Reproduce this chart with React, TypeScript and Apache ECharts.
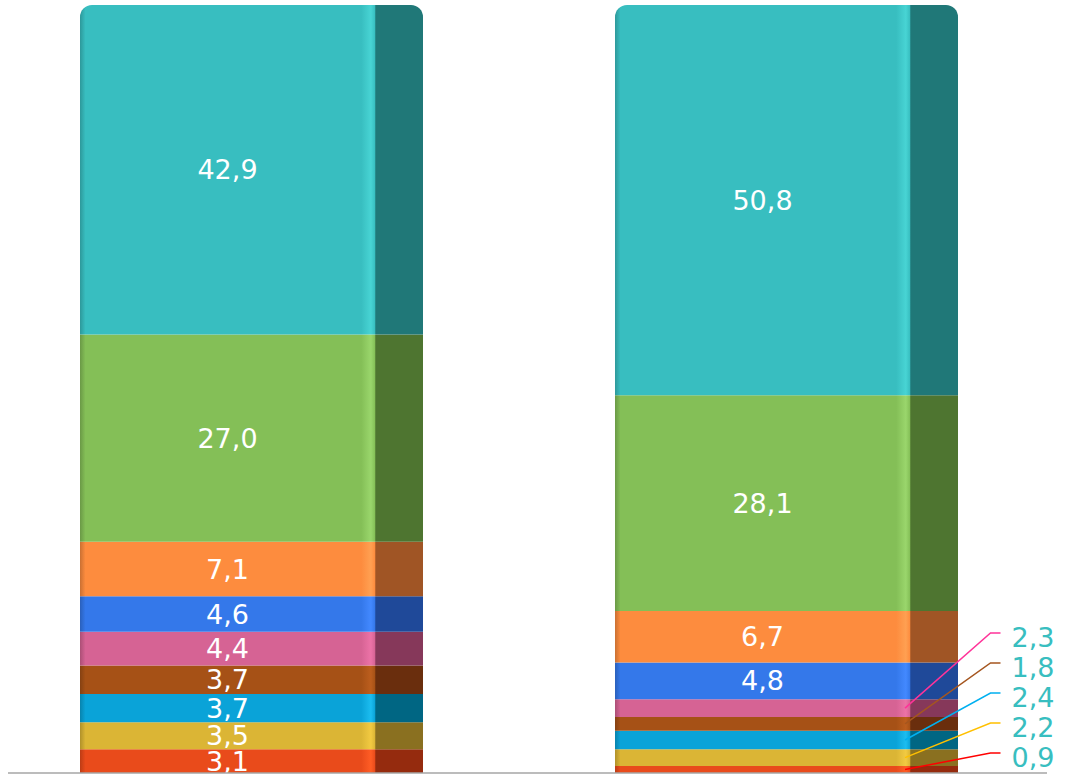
import React, { useEffect, useRef } from 'react';
import * as echarts from 'echarts';

// ---- data (bottom to top of each stacked bar) ----
const categories = ['Balken 1', 'Balken 2'];
const seriesNames = ['Reihe 1', 'Reihe 2', 'Reihe 3', 'Reihe 4', 'Reihe 5', 'Reihe 6', 'Reihe 7', 'Reihe 8', 'Reihe 9'];
const redValues = [3.1, 0.9];
const yellowValues = [3.5, 2.2];
const cyanValues = [3.7, 2.4];
const brownValues = [3.7, 1.8];
const pinkValues = [4.4, 2.3];
const blueValues = [4.6, 4.8];
const orangeValues = [7.1, 6.7];
const greenValues = [27.0, 28.1];
const tealValues = [42.9, 50.8];
const seriesData = [redValues, yellowValues, cyanValues, brownValues, pinkValues, blueValues, orangeValues, greenValues, tealValues];

// ---- styles ----
const frontColors = ['#E94B1B', '#DBB535', '#0AA3D8', '#A65116', '#D66394', '#3478EA', '#FD8C3E', '#84BF57', '#38BEC0'];
const sideColors = ['#952B0E', '#8A7020', '#006683', '#6A2E0D', '#86385A', '#1F4999', '#A05525', '#4E7530', '#207878'];
const highlightColors = ['#FF5D25', '#F2CA42', '#1CBDF0', '#BC5E1E', '#EC73A7', '#4389FF', '#FFA052', '#9AD66C', '#48D4D4'];
const edgeColors = ['#BC3C15', '#B0912A', '#0883AD', '#854112', '#AB4F76', '#2A60BB', '#CA7032', '#6A9946', '#2D989A'];
const leaderColors = ['#FF0000', '#FFC000', '#00B0F0', '#A5561F', '#FF3399', '#3478EA', '#FD8C3E', '#84BF57', '#38BEC0'];
const OUTSIDE_THRESHOLD = 3;
const BAR_WIDTH = 343;
const SIDE_WIDTH = 48;
const FONT = '"DejaVu Sans", Verdana, sans-serif';
const FONT_SIZE = 27;
const OUTSIDE_LABEL_COLOR = '#38BEC0';
const CONTAINER_SHIFT = 16; // chart canvas starts 16px left of the page

const fmt = (v: number) => v.toFixed(1).replace('.', ',');

function barGradient(i: number) {
  return new echarts.graphic.LinearGradient(0, 0, 1, 0, [
    { offset: 0, color: edgeColors[i] },
    { offset: 0.016, color: frontColors[i] },
    { offset: 0.82, color: frontColors[i] },
    { offset: 0.848, color: highlightColors[i] },
    { offset: 0.86, color: frontColors[i] },
    { offset: 0.8621, color: sideColors[i] },
    { offset: 1, color: sideColors[i] },
  ]);
}

export default function App() {
  const ref = useRef<HTMLDivElement>(null);

  useEffect(() => {
    if (!ref.current) return;
    const chart = echarts.init(ref.current, null, { renderer: 'svg' });

    // items whose value is too small (second bar): labelled outside with a leader line
    const outsideItems: number[][] = [];
    categories.forEach((_, ci) => {
      let cum = 0;
      let rank = 0;
      seriesData.forEach((arr, si) => {
        const v = arr[ci];
        if (ci === 1 && v < OUTSIDE_THRESHOLD) {
          outsideItems.push([ci, cum + v / 2, rank, v, si]);
          rank++;
        }
        cum += v;
      });
    });

    const barSeries = seriesData.map((arr, si) => ({
      name: seriesNames[si],
      type: 'bar',
      stack: 'total',
      barWidth: BAR_WIDTH,
      data: arr,
      itemStyle: {
        color: barGradient(si),
        borderRadius: si === seriesData.length - 1 ? [12, 12, 0, 0] : 0,
      },
      label: {
        show: true,
        position: 'inside',
        offset: [-(SIDE_WIDTH / 2), 0],
        color: '#FFFFFF',
        fontSize: FONT_SIZE,
        fontFamily: FONT,
        formatter: (p: any) => (p.dataIndex === 1 && p.value < OUTSIDE_THRESHOLD ? '' : fmt(p.value)),
      },
    }));

    const leaderSeries = {
      type: 'custom',
      coordinateSystem: 'cartesian2d',
      data: outsideItems,
      z: 10,
      renderItem: (params: any, api: any) => {
        const ci = api.value(0);
        const mid = api.value(1);
        const rank = api.value(2);
        const v = api.value(3);
        const si = api.value(4);
        const p = api.coord([ci, mid]);
        const base = api.coord([ci, 0]);
        const x0 = p[0] + BAR_WIDTH / 2 - SIDE_WIDTH - 5;
        const ly = base[1] - 20 - 30 * rank;
        const x1 = p[0] + 204;
        const x2 = p[0] + 214;
        return {
          type: 'group',
          children: [
            {
              type: 'polyline',
              shape: { points: [[x0, p[1]], [x1, ly], [x2, ly]] },
              style: { stroke: leaderColors[si], lineWidth: 1.5, fill: 'none' },
            },
            {
              type: 'text',
              x: x2 + 11,
              y: ly + 4,
              style: {
                text: fmt(v),
                fill: OUTSIDE_LABEL_COLOR,
                fontSize: FONT_SIZE,
                fontFamily: FONT,
                align: 'left',
                verticalAlign: 'middle',
              },
            },
          ],
        };
      },
    };

    chart.setOption({
      animation: false,
      grid: { left: 0, right: 22, top: 5, bottom: 5, containLabel: false },
      xAxis: {
        type: 'category',
        data: categories,
        axisLine: { show: false },
        axisTick: { show: false },
        axisLabel: { show: false },
      },
      yAxis: {
        type: 'value',
        min: 0,
        max: 100,
        show: false,
        splitLine: { show: false },
      },
      graphic: [
        {
          type: 'line',
          z: 100,
          shape: { x1: 8 + CONTAINER_SHIFT, y1: 773, x2: 1047 + CONTAINER_SHIFT, y2: 773 },
          style: { stroke: '#A6A6A6', lineWidth: 1.5 },
        },
      ],
      series: [...barSeries, leaderSeries],
    });

    return () => chart.dispose();
  }, []);

  return (
    <div
      ref={ref}
      style={{
        position: 'absolute',
        left: -CONTAINER_SHIFT,
        top: 0,
        width: 1076 + CONTAINER_SHIFT,
        height: 778,
        background: '#FFFFFF',
      }}
    />
  );
}
